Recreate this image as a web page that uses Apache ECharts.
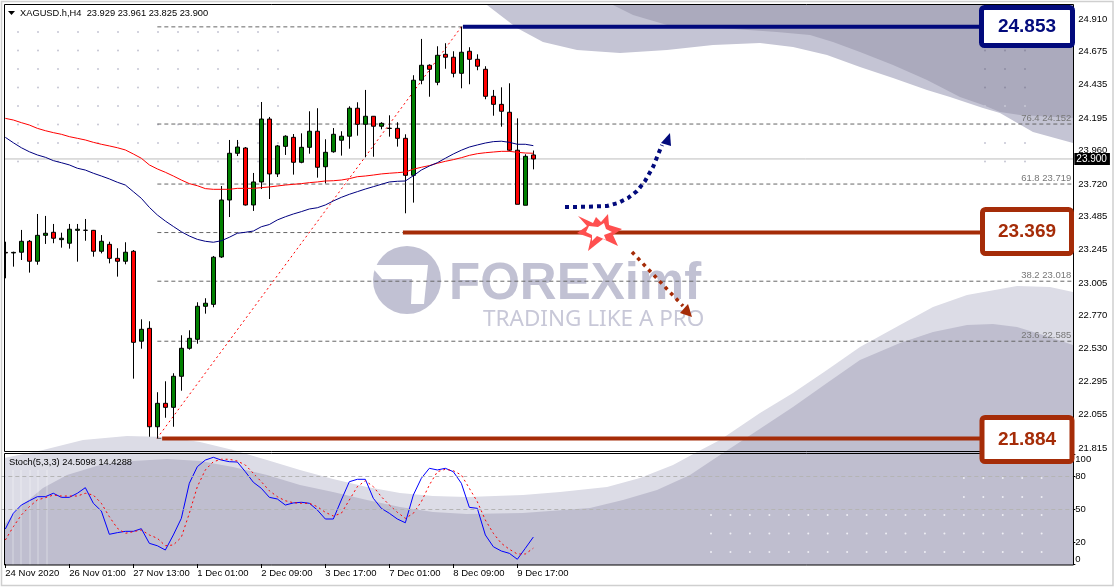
<!DOCTYPE html>
<html>
<head>
<meta charset="utf-8">
<style>html,body{margin:0;padding:0;background:#fff}#chart{width:1115px;height:588px}</style>
<script src="https://cdn.jsdelivr.net/npm/echarts@6/dist/echarts.min.js"></script>
</head>
<body>
<div id="chart"></div>
<script>
// H4 candles
const candleOpen = [
  23.226,23.222,23.227,23.306,23.162,23.349,23.371,23.318,23.292,23.385,
  23.385,23.385,23.234,23.284,23.183,23.162,23.234,22.585,22.678,21.968,
  22.137,22.108,22.332,22.534,22.599,22.837,22.851,23.193,23.604,23.941,
  23.979,23.568,23.734,24.188,23.792,23.991,24.056,23.876,23.984,24.100,
  23.844,23.952,24.035,24.064,24.266,24.150,24.208,24.136,24.120,24.121,
  24.049,23.782,24.468,24.576,24.453,24.655,24.634,24.518,24.677,24.619,
  24.547,24.352,24.294,24.237,23.963,23.566,23.929];
const candleClose = [
  23.222,23.226,23.306,23.162,23.349,23.364,23.328,23.328,23.393,23.393,
  23.386,23.234,23.306,23.183,23.162,23.227,22.577,22.671,21.968,22.137,
  22.108,22.332,22.534,22.606,22.837,22.859,23.191,23.604,23.941,23.986,
  23.568,23.734,24.188,23.792,23.994,24.064,23.876,23.984,24.100,23.840,
  23.948,24.078,24.064,24.266,24.150,24.208,24.136,24.157,24.122,24.049,
  23.782,24.468,24.576,24.547,24.648,24.634,24.518,24.670,24.619,24.569,
  24.352,24.294,24.244,23.963,23.573,23.919,23.900];
const candleLow = [
  23.039,23.123,23.171,23.080,23.137,23.287,23.292,23.260,23.253,23.159,
  23.310,23.195,23.219,23.147,23.051,23.140,22.315,22.531,21.896,21.884,
  22.033,21.968,22.228,22.524,22.567,22.784,22.830,23.186,23.481,23.921,
  23.564,23.525,23.683,23.611,23.770,23.929,23.787,23.869,23.938,23.765,
  23.724,23.945,23.924,23.974,24.068,23.912,23.916,24.114,24.061,23.989,
  23.508,23.585,24.439,24.349,24.432,24.551,24.489,24.410,24.439,24.540,
  24.331,24.212,24.133,23.955,23.573,23.566,23.825];
const candleHigh = [
  23.303,23.231,23.388,23.315,23.503,23.489,23.431,23.368,23.431,23.431,
  23.467,23.388,23.351,23.303,23.256,23.299,23.243,22.743,22.729,22.217,
  22.296,22.354,22.628,22.664,22.866,22.895,23.200,23.705,24.037,24.037,
  23.986,23.799,24.311,24.203,24.001,24.071,24.080,24.085,24.244,24.266,
  24.042,24.123,24.100,24.280,24.309,24.398,24.210,24.165,24.215,24.165,
  24.078,24.504,24.766,24.583,24.713,24.735,24.677,24.853,24.706,24.655,
  24.569,24.398,24.417,24.446,24.193,23.934,23.961];
const maRed = [
  24.193,24.181,24.162,24.145,24.121,24.104,24.090,24.078,24.061,24.049,
  24.037,24.020,24.006,23.994,23.981,23.965,23.936,23.905,23.857,23.828,
  23.804,23.777,23.748,23.722,23.707,23.686,23.681,23.681,23.681,23.688,
  23.688,23.688,23.693,23.698,23.705,23.712,23.717,23.722,23.729,23.734,
  23.741,23.743,23.748,23.758,23.772,23.777,23.784,23.792,23.797,23.801,
  23.806,23.826,23.840,23.852,23.869,23.883,23.895,23.909,23.926,23.938,
  23.945,23.950,23.955,23.955,23.948,23.943,23.941];
const maBlue = [
  24.056,24.017,23.981,23.952,23.929,23.912,23.888,23.873,23.857,23.833,
  23.820,23.797,23.777,23.756,23.732,23.712,23.664,23.616,23.551,23.496,
  23.452,23.413,23.375,23.344,23.320,23.306,23.299,23.310,23.335,23.364,
  23.371,23.380,23.411,23.427,23.460,23.483,23.503,23.520,23.539,23.548,
  23.568,23.597,23.623,23.645,23.664,23.683,23.700,23.717,23.734,23.739,
  23.741,23.779,23.820,23.849,23.873,23.905,23.936,23.963,23.986,24.001,
  24.015,24.025,24.028,24.020,24.006,24.006,23.996];
const stochK = [
  31.8,46.1,53.6,57.5,61.2,61.2,64.3,60.6,60.6,64.3,
  69.4,55.2,48.2,27.0,28.5,29.7,29.7,32.1,18.8,16.6,
  12.7,26.4,41.5,73.4,88.5,94.5,97.0,94.5,93.0,92.7,
  83.9,74.3,68.8,60.6,59.1,53.6,55.5,56.1,55.2,49.1,
  40.9,40.9,58.2,74.8,77.0,77.0,59.7,50.6,46.1,40.9,
  37.5,62.7,77.9,87.0,85.5,87.0,83.9,73.4,51.5,50.6,
  26.4,15.7,11.8,9.7,4.3,14.3,24.5];
const stochD = [
  21.8,33.9,44.5,52.1,58.2,60.3,62.7,61.8,61.8,61.8,
  64.3,62.7,55.2,43.0,32.5,27.9,29.4,30.9,26.4,23.4,
  16.6,17.3,24.3,46.1,70.3,85.5,93.0,95.2,95.2,93.6,
  90.0,82.5,74.8,66.6,61.2,57.5,55.7,55.2,55.2,52.1,
  47.0,43.6,46.1,58.2,70.3,75.7,70.3,61.2,53.6,47.0,
  41.5,46.1,56.6,71.8,83.9,86.1,84.8,80.9,68.8,56.6,
  40.0,27.9,18.8,13.4,9.1,9.1,14.4];

const priceTicks = [24.910,24.675,24.435,24.195,23.960,23.720,23.485,23.245,23.005,22.770,22.530,22.295,22.055,21.815];
const stochTicks = [100,80,50,20,0];
const stochLevels = [80,50];
const timeLabels = ['24 Nov 2020','26 Nov 01:00','27 Nov 13:00','1 Dec 01:00','2 Dec 09:00','3 Dec 17:00','7 Dec 01:00','8 Dec 09:00','9 Dec 17:00'];
const fibRatios = ['100.0','76.4','61.8','50.0','38.2','23.6','0.0'];
const fibPrices = [24.853,24.152,23.719,23.369,23.018,22.585,21.884];
const keyLevels = [24.853,23.369,21.884];
const lastPrice = 23.900;

const SLOTS = 134; // the time axis is 8px per bar
const categories = Array.from({length: SLOTS}, (_, i) => String(i));
const candles = candleOpen.map((o, i) => [o, candleClose[i], candleLow[i], candleHigh[i]]);
const font = '"Liberation Sans", Arial, sans-serif';
const NAVY = '#020a7c', BROWN = '#a52c08';

function pts(el, list, fill, z) {
  el.push({type: 'polygon', z, silent: true, shape: {points: list}, style: {fill}});
}

// backdrop, watermark, drawn annotations
const deco = [];
pts(deco, [[487,5],[500,15],[517,28],[543,42],[577,50],[620,53],[667,50],[713,45],[760,43],[793,47],[827,55],[860,67],[893,78],[927,90],[950,97],[983,108],[1000,113],[1033,132],[1073,143],[1073,5]], '#c4c4d4', 0);
pts(deco, [[613,5],[633,15],[667,25],[720,28],[777,32],[810,35],[833,42],[860,52],[893,65],[927,80],[960,97],[983,105],[1000,112],[1020,115],[1073,118],[1073,5]], '#abaabd', 0);
pts(deco, [[4,458],[43,450],[83,440],[127,436],[167,437],[200,442],[233,450],[267,460],[300,470],[333,479],[367,487],[400,493],[433,496],[467,497],[523,495],[560,492],[607,487],[640,478],[673,465],[697,452],[720,440],[760,413],[793,393],[827,370],[860,347],[900,325],[933,307],[967,295],[1017,286],[1050,287],[1073,292],[1073,565],[4,565]], '#dcdce6', 0);
pts(deco, [[4,525],[20,507],[43,488],[67,475],[100,465],[133,461],[167,459],[200,461],[233,467],[267,475],[300,485],[333,492],[367,500],[400,507],[433,512],[467,514],[523,513],[590,508],[623,500],[657,490],[690,475],[717,457],[743,440],[793,407],[827,383],[860,360],[900,343],[933,332],[967,325],[993,324],[1017,327],[1043,335],[1073,345],[1073,565],[4,565]], '#bfbecf', 0);

for (let c = 0; c < 14; c++) for (let r = 0; r < 8; r++) {
  deco.push({type: 'circle', z: 0, silent: true, shape: {cx: 18 + c * 20, cy: 32 + r * 18.5, r: 1}, style: {fill: '#c6c6d4'}});
}
for (let c = 0; c < 3; c++) for (let r = 1; r < 8; r++) {
  deco.push({type: 'circle', z: 0, silent: true, shape: {cx: 985 + c * 20, cy: 32 + r * 18.5, r: 1}, style: {fill: r < 4 ? '#8e8da3' : '#c6c6d4'}});
}
for (let c = 0; c < 18; c++) for (let r = 0; r < 3; r++) {
  deco.push({type: 'circle', z: 0, silent: true, shape: {cx: 711 + c * 19.45, cy: 515 + r * 18.5, r: 1}, style: {fill: '#eeeef4'}});
}
for (let c = 13; c < 18; c++) for (let r = 0; r < 2; r++) {
  deco.push({type: 'circle', z: 0, silent: true, shape: {cx: 711 + c * 19.45, cy: 478 + r * 19, r: 1}, style: {fill: '#eeeef4'}});
}
[13, 21, 30, 38, 47].forEach(x => {
  deco.push({type: 'line', z: 0, silent: true, shape: {x1: x, y1: 470, x2: x, y2: 565}, style: {stroke: '#fff', lineWidth: 1, opacity: 0.4}});
});

// logo
deco.push({type: 'circle', z: 1, silent: true, shape: {cx: 407, cy: 280, r: 34}, style: {fill: '#c1c1d3'}});
pts(deco, [[370,265],[428,265],[424,304],[411,304],[412,279],[382,279]], '#fff', 1);
pts(deco, [[386,298],[405,279],[411,285],[411,304],[392,304]], '#c1c1d3', 1);
deco.push({type: 'text', z: 1, silent: true, x: 449, y: 285, style: {text: 'FOREXimf', font: 'bold 51px ' + font, fill: '#c1c1d3', textVerticalAlign: 'middle'}});
deco.push({type: 'text', z: 1, silent: true, x: 483, y: 320, style: {text: 'TRADING LIKE A PRO', font: '22.5px "Noto Sans", sans-serif', fill: '#c8c8d8', textVerticalAlign: 'middle'}});

// arrows
deco.push({type: 'polyline', z: 20, silent: true, shape: {points: [[565,207],[585,206.8],[607,206],[618,203],[628,198],[637,191],[645,181],[653,167],[662,145]]}, style: {fill: 'none', stroke: NAVY, lineWidth: 4, lineDash: [4, 4]}});
pts(deco, [[670,133],[661,143],[671,146]], NAVY, 20);
deco.push({type: 'line', z: 20, silent: true, shape: {x1: 632, y1: 252, x2: 683, y2: 306}, style: {stroke: BROWN, lineWidth: 3.5, lineDash: [3.5, 4.5]}});
pts(deco, [[692,317],[680,313],[688,304]], BROWN, 20);
pts(deco, [[578,216],[593,223],[596,217],[601,222],[608,214],[609,225],[622,229],[613,235],[618,246],[603,239],[588,251],[591,238],[577,233],[587,226]], '#ff4f4f', 20);
pts(deco, [[589,226],[598,227],[604,223],[606,229],[612,232],[604,235],[606,240],[597,236],[592,241],[592,235],[586,232]], '#fff', 20);

// frames
deco.push({type: 'rect', z: 5, silent: true, shape: {x: 0, y: 0, width: 4, height: 588}, style: {fill: '#fff'}});
deco.push({type: 'rect', z: 5, silent: true, shape: {x: 1.5, y: 1.5, width: 1111.5, height: 584}, style: {fill: 'none', stroke: '#cfcfcf', lineWidth: 1.5}});
deco.push({type: 'rect', z: 6, silent: true, shape: {x: 4.5, y: 4.5, width: 1069, height: 447}, style: {fill: 'none', stroke: '#000', lineWidth: 1}});
deco.push({type: 'rect', z: 6, silent: true, shape: {x: 4.5, y: 453.5, width: 1069, height: 111.5}, style: {fill: 'none', stroke: '#000', lineWidth: 1}});

// captions
pts(deco, [[8,11],[15,11],[11.5,15]], '#000', 7);
deco.push({type: 'text', z: 7, silent: true, x: 20, y: 13, style: {text: 'XAGUSD.h,H4  23.929 23.961 23.825 23.900', font: '9.3px ' + font, fill: '#000', textVerticalAlign: 'middle'}});
deco.push({type: 'text', z: 7, silent: true, x: 9, y: 462.5, style: {text: 'Stoch(5,3,3) 24.5098 14.4288', font: '9.3px ' + font, fill: '#000', textVerticalAlign: 'middle'}});

// level boxes
[[981.5,7.5,91,38,NAVY,'24.853'],[982.5,209.5,89,44,BROWN,'23.369'],[982,417.5,90,44,BROWN,'21.884']].forEach(b => {
  deco.push({type: 'rect', z: 30, silent: true, shape: {x: b[0], y: b[1], width: b[2], height: b[3], r: 3}, style: {fill: '#fff', stroke: b[4], lineWidth: 5}});
  deco.push({type: 'text', z: 31, silent: true, x: b[0] + b[2] / 2, y: b[1] + b[3] / 2, style: {text: b[5], font: 'bold 19px ' + font, fill: b[4], textAlign: 'center', textVerticalAlign: 'middle'}});
});

// series on the hidden value axis (0..SLOTS), for lines that stop between bars
function levelSeries(points, color, width, type, z, extra) {
  return Object.assign({
    type: 'line', xAxisIndex: 2, yAxisIndex: 0, data: points, z,
    symbol: 'none', silent: true, animation: false,
    lineStyle: {color, width, type}
  }, extra || {});
}
const fibSeries = fibPrices.map((p, i) => {
  const hasLabel = i > 0 && i < 6 && i !== 3;
  return levelSeries([[19.5, p], {
    value: [SLOTS, p], symbol: 'circle', symbolSize: 0,
    label: {show: hasLabel, position: 'top', align: 'right', distance: 1, offset: [-2, 0], formatter: fibRatios[i] + ' ' + p.toFixed(3), color: '#777', fontSize: 9.5, fontFamily: font}
  }], '#666', 1, [4, 3], 1, {showSymbol: true, showAllSymbols: true});
});
const keyStart = [57.7, 50.2, 20.1];
const keySeries = keyLevels.map((p, i) => levelSeries([[keyStart[i], p], [126, p]], i === 0 ? NAVY : BROWN, 4, 'solid', 8));

const option = {
  backgroundColor: '#fff',
  animation: false,
  graphic: {elements: deco},
  grid: [
    {left: 1.33, width: 1072, top: 4, height: 447},
    {left: 1.33, width: 1072, top: 454, height: 110}
  ],
  xAxis: [
    {type: 'category', gridIndex: 0, data: categories, show: false},
    {
      type: 'category', gridIndex: 1, data: categories,
      axisLine: {show: false},
      axisTick: {show: true, length: 4, alignWithLabel: true, interval: i => i % 8 === 0 && i <= 64, lineStyle: {color: '#000'}},
      axisLabel: {
        interval: i => i % 8 === 0 && i <= 64,
        formatter: (v, i) => timeLabels[i / 8] || '',
        align: 'left', margin: 4, color: '#000', fontSize: 9.5, fontFamily: font, hideOverlap: false
      },
      splitLine: {show: false}
    },
    {type: 'value', gridIndex: 0, min: 0, max: SLOTS, show: false, splitLine: {show: false}}
  ],
  yAxis: [
    {
      type: 'value', gridIndex: 0, position: 'right', min: 21.793, max: 25.018, scale: true,
      axisLine: {show: false},
      axisTick: {show: true, length: 3, customValues: priceTicks, lineStyle: {color: '#000'}},
      axisLabel: {customValues: priceTicks, formatter: v => v.toFixed(3), margin: 5, color: '#000', fontSize: 9.5, fontFamily: font, showMinLabel: true, showMaxLabel: true, hideOverlap: false},
      splitLine: {show: false}
    },
    {
      type: 'value', gridIndex: 1, position: 'right', min: 0, max: 100,
      axisLine: {show: false},
      axisTick: {show: true, length: 2, customValues: stochTicks, lineStyle: {color: '#000'}},
      axisLabel: {customValues: stochTicks, margin: 2, color: '#000', fontSize: 9.5, fontFamily: font, verticalAlignMaxLabel: 'bottom', verticalAlignMinLabel: 'top', hideOverlap: false},
      splitLine: {show: false}
    }
  ],
  series: [
    ...fibSeries,
    levelSeries([[19.46, 21.884], [57.5, 24.853]], '#ff0000', 1, [2, 3], 2),
    levelSeries([[0, lastPrice], {
      value: [SLOTS, lastPrice], symbol: 'circle', symbolSize: 0,
      label: {show: true, position: 'right', distance: 1, formatter: lastPrice.toFixed(3), color: '#fff', backgroundColor: '#000', padding: [1, 3, 1, 2], fontSize: 10, fontFamily: font}
    }], '#bdbdbd', 1, 'solid', 1, {showSymbol: true, showAllSymbols: true}),
    {
      type: 'candlestick', xAxisIndex: 0, yAxisIndex: 0, data: candles, barWidth: 4, z: 3, clip: true, silent: true,
      itemStyle: {color: '#008000', color0: '#ff0000', borderColor: '#000', borderColor0: '#000', borderWidth: 1}
    },
    {type: 'line', xAxisIndex: 0, yAxisIndex: 0, data: maRed, showSymbol: false, silent: true, z: 4, lineStyle: {color: '#ff0000', width: 1}},
    {type: 'line', xAxisIndex: 0, yAxisIndex: 0, data: maBlue, showSymbol: false, silent: true, z: 4, lineStyle: {color: '#000080', width: 1}},
    ...keySeries,
    {
      type: 'line', xAxisIndex: 1, yAxisIndex: 1, data: stochK, showSymbol: false, silent: true, z: 4,
      lineStyle: {color: '#0000ff', width: 1},
      markLine: {silent: true, symbol: 'none', label: {show: false}, lineStyle: {color: '#b4b4b4', width: 1, type: [4, 3]}, data: stochLevels.map(v => ({yAxis: v}))}
    },
    {type: 'line', xAxisIndex: 1, yAxisIndex: 1, data: stochD, showSymbol: false, silent: true, z: 4, lineStyle: {color: '#ff0000', width: 1, type: [2, 3]}}
  ]
};

const chart = echarts.init(document.getElementById('chart'), null, {renderer: 'canvas'});
chart.setOption(option);
</script>
</body>
</html>
